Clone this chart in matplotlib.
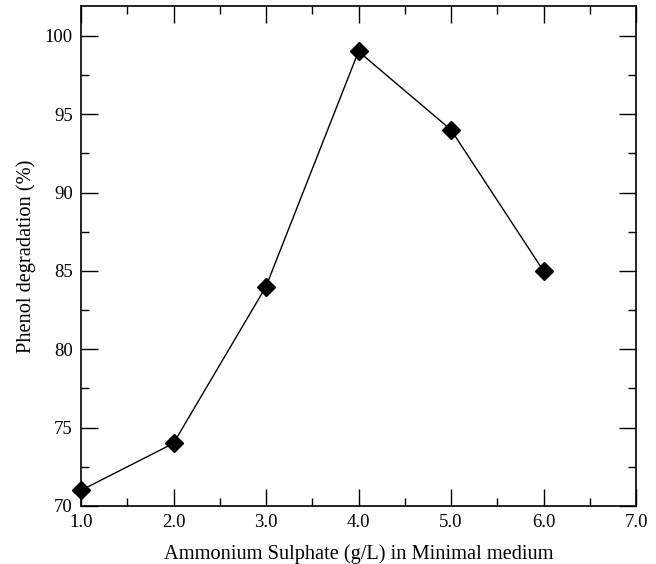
import numpy as np
import matplotlib
matplotlib.use("Agg")
import matplotlib.pyplot as plt
from matplotlib.ticker import MultipleLocator

plt.rcParams['font.family'] = ['Liberation Serif', 'DejaVu Serif']

# phenol degradation vs ammonium sulphate concentration
conc = [1.0, 2.0, 3.0, 4.0, 5.0, 6.0]
degradation = [71, 74, 84, 99, 94, 85]

fig = plt.figure(figsize=(6.56, 5.64), dpi=100)
ax = fig.add_axes([81/656, 58/564, 555/656, 500/564])

ax.plot(conc, degradation, color='black', lw=1.0, marker='D', ms=9,
        mfc='black', mec='black', clip_on=False, zorder=3)

ax.set_xlim(1.0, 7.0)
ax.set_ylim(70, 101.9)
ax.xaxis.set_major_locator(MultipleLocator(1.0))
ax.xaxis.set_minor_locator(MultipleLocator(0.5))
ax.yaxis.set_major_locator(MultipleLocator(5))
ax.yaxis.set_minor_locator(MultipleLocator(2.5))
ax.set_xticks(np.arange(1.0, 7.01, 1.0))
ax.set_xticklabels([f"{v:.1f}" for v in np.arange(1.0, 7.01, 1.0)])

ax.tick_params(which='both', direction='in', top=True, right=True, width=1.0,
               labelsize=13.5, pad=6)
ax.tick_params(which='major', length=12.5)
ax.tick_params(which='minor', length=6)
for s in ax.spines.values():
    s.set_linewidth(1.2)

ax.set_xlabel("Ammonium Sulphate (g/L) in Minimal medium", fontsize=14.7, labelpad=9)
ax.set_ylabel("Phenol degradation (%)", fontsize=14.7, labelpad=6)

fig.savefig("out.png", dpi=100)
